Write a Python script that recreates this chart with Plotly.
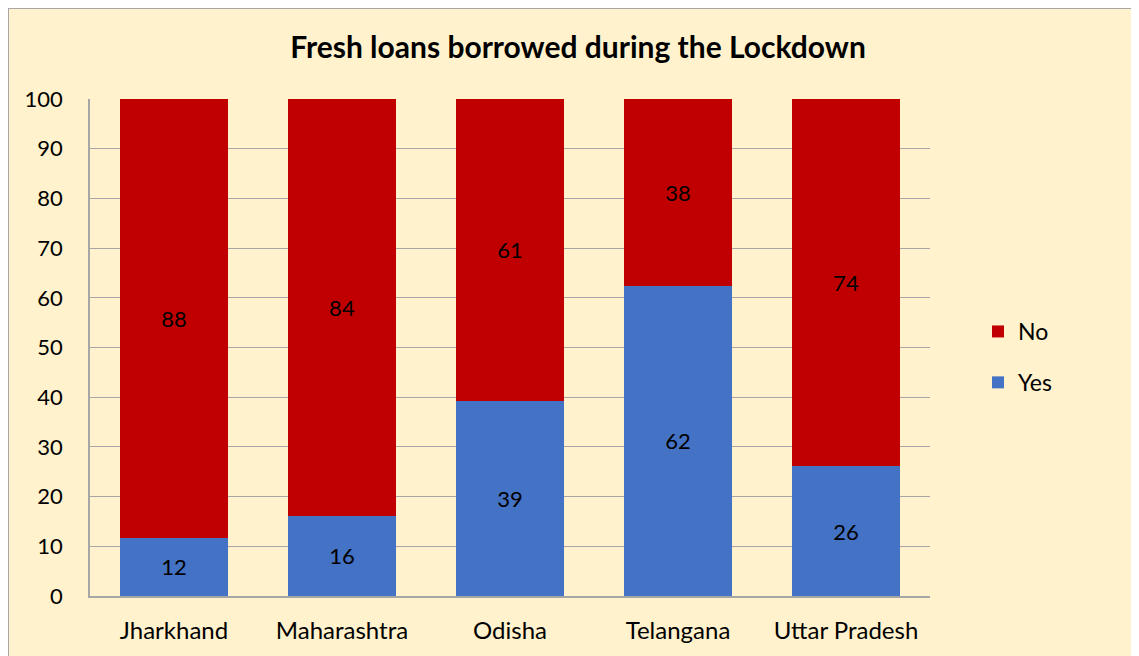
import plotly.graph_objects as go

states = ["Jharkhand", "Maharashtra", "Odisha", "Telangana", "Uttar Pradesh"]
yes_vals = [11.7, 16.1, 39.3, 62.4, 26.1]
no_vals = [88.3, 83.9, 60.7, 37.6, 73.9]
y_ticks = [0, 10, 20, 30, 40, 50, 60, 70, 80, 90, 100]

OFF = 8  # page body margin
W, H = 1139 - OFF, 656 - OFF
L, R, T, B = 90 - OFF, 930 - OFF, 99 - OFF, 596 - OFF
pw, ph = R - L, B - T

def px_x(p):
    return (p - OFF - L) / pw

def px_y(p):
    return (B - (p - OFF)) / ph

FONT = "Lato, Open Sans, sans-serif"

fig = go.Figure()
fig.add_trace(go.Bar(
    name="Yes", x=states, y=yes_vals, marker_color="#4472C4",
    texttemplate="%{y:.0f}", textposition="inside", insidetextanchor="middle",
    textfont=dict(size=22, color="black", family=FONT), legendgroup="yes",
    legendrank=2, marker_line_width=0,
))
fig.add_trace(go.Bar(
    name="No", x=states, y=no_vals, marker_color="#C00000",
    texttemplate="%{y:.0f}", textposition="inside", insidetextanchor="middle",
    textfont=dict(size=22, color="black", family=FONT), legendgroup="no",
    legendrank=1, marker_line_width=0,
))

fig.update_layout(
    width=W, height=H,
    margin=dict(l=L, r=W - R, t=T, b=H - B),
    barmode="stack", bargap=0.357,
    paper_bgcolor="white", plot_bgcolor="rgba(0,0,0,0)",
    font=dict(family=FONT, size=22, color="black"),
    title=dict(text="<b>Fresh loans borrowed during the Lockdown</b>",
               x=(578 - OFF) / W, xanchor="center", y=1 - (47 - OFF) / H, yanchor="middle",
               font=dict(size=30, family=FONT, color="black")),
    legend=dict(x=px_x(978), y=px_y(357), xanchor="left", yanchor="middle",
                traceorder="grouped", tracegroupgap=18, itemwidth=30,
                font=dict(size=23, family=FONT), bgcolor="rgba(0,0,0,0)"),
    xaxis=dict(showline=True, linecolor="#A6A6A6", linewidth=1.5,
               tickfont=dict(size=24, family=FONT), ticks="", ticklabelstandoff=12),
    yaxis=dict(range=[0, 100], tickvals=y_ticks, showgrid=True,
               gridcolor="#A6A6A6", gridwidth=1, showline=True,
               linecolor="#A6A6A6", linewidth=1.5, zeroline=False,
               tickfont=dict(size=22, family=FONT), ticks="", ticklabelstandoff=21),
    showlegend=True,
)

fig.add_shape(type="rect", xref="paper", yref="paper", layer="below",
              x0=px_x(OFF), x1=px_x(1139 + 20), y0=px_y(656 + 20), y1=px_y(OFF),
              fillcolor="#FFF2CC", line=dict(color="#A6A6A6", width=2))

fig.write_html("out.html")
